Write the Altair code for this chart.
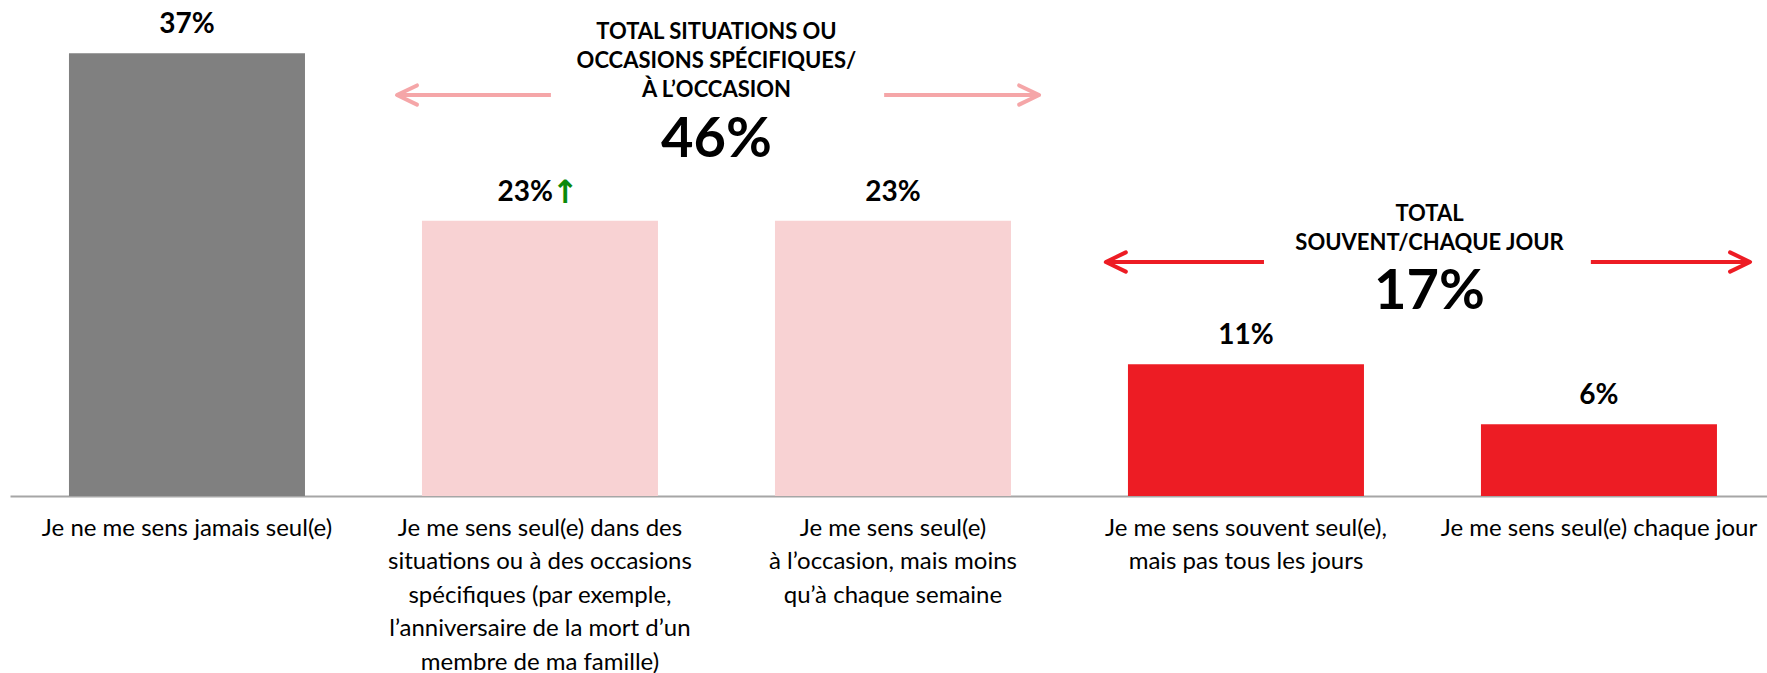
import altair as alt
import pandas as pd

# ---------------- data ----------------
categories = [
    "Je ne me sens jamais seul(e)",
    "Je me sens seul(e) dans des\nsituations ou à des occasions\nspécifiques (par exemple,\nl’anniversaire de la mort d’un\nmembre de ma famille)",
    "Je me sens seul(e)\nà l’occasion, mais moins\nqu’à chaque semaine",
    "Je me sens souvent seul(e),\nmais pas tous les jours",
    "Je me sens seul(e) chaque jour",
]
values = [37, 23, 23, 11, 6]
value_labels = ["37%", "23%", "23%", "11%", "6%"]
trend = ["", "↑", "", "", ""]
bar_colors = ["#808080", "#F8D2D3", "#F8D2D3", "#ED1C24", "#ED1C24"]

# group annotations (x in bar-slot units: 0 = first bar centre; y in % units)
group_lines = ["TOTAL SITUATIONS OU", "OCCASIONS SPÉCIFIQUES/", "À L’OCCASION",
               "TOTAL", "SOUVENT/CHAQUE JOUR"]
group_line_x = [1.5, 1.5, 1.5, 3.52, 3.52]
group_line_y = [38.18, 35.76, 33.33, 23.0, 20.55]

group_totals = ["46%", "17%"]
group_total_x = [1.5, 3.52]
group_total_y = [28.32, 15.62]

arrow_tail_x = [1.031, 1.975, 3.051, 3.977]
arrow_tip_x = [0.595, 2.414, 2.603, 4.428]
arrow_y = [33.50, 33.50, 19.55, 19.55]
arrow_angle = [180, 0, 180, 0]
arrow_colors = ["#F5A6A8", "#F5A6A8", "#ED1C24", "#ED1C24"]

# ---------------- tables ----------------
bars = pd.DataFrame({"cat": categories, "value": values, "label": value_labels,
                     "trend": trend, "color": bar_colors})
lines_df = pd.DataFrame({"text": group_lines, "x": group_line_x, "y": group_line_y})
totals_df = pd.DataFrame({"text": group_totals, "x": group_total_x, "y": group_total_y})
arrows_df = pd.DataFrame({"tail": arrow_tail_x, "tip": arrow_tip_x, "y": arrow_y,
                          "angle": arrow_angle, "color": arrow_colors})

FONT = "Lato"
Y_MAX = 41.44

band = alt.Scale(type="band", domain=categories, paddingInner=0.3314,
                 paddingOuter=0.1544, align=0.541)
unit = alt.Scale(domain=[-0.5013, 4.476], nice=False, zero=False)
yscale = alt.Scale(domain=[0, Y_MAX], nice=False, zero=True)

x_axis = alt.Axis(
    title=None, labelAngle=0, ticks=False, labelFont=FONT, labelFontSize=24,
    labelColor="#000000", labelLineHeight=33.5, labelPadding=20, labelLimit=500,
    labelOverlap=False, labelFlush=False, domainColor="#A6A6A6", domainWidth=2,
    labelExpr="split(datum.value, '\\n')", grid=False,
)

bar_layer = alt.Chart(bars).mark_bar().encode(
    x=alt.X("cat:N", scale=band, axis=x_axis),
    y=alt.Y("value:Q", scale=yscale, axis=None),
    color=alt.Color("color:N", scale=None),
)

label_base = alt.Chart(bars)
lab_plain = label_base.transform_filter("datum.trend == ''").mark_text(
    font=FONT, fontWeight="bold", fontSize=28, baseline="alphabetic", dy=-20,
    color="#000000", align="center",
).encode(
    x=alt.X("cat:N", scale=band, axis=None),
    y=alt.Y("value:Q", scale=yscale, axis=None),
    text="label:N",
)
lab_trend = label_base.transform_filter("datum.trend != ''").mark_text(
    font=FONT, fontWeight="bold", fontSize=28, baseline="alphabetic", dy=-20, dx=13,
    color="#000000", align="right",
).encode(
    x=alt.X("cat:N", scale=band, axis=None),
    y=alt.Y("value:Q", scale=yscale, axis=None),
    text="label:N",
)
lab_arrow = label_base.transform_filter("datum.trend != ''").mark_text(
    font="DejaVu Sans", fontWeight="bold", fontSize=32, baseline="alphabetic", dy=-18, dx=12,
    color="#0A8A0A", align="left",
).encode(
    x=alt.X("cat:N", scale=band, axis=None),
    y=alt.Y("value:Q", scale=yscale, axis=None),
    text="trend:N",
)

group_text = alt.Chart(lines_df).mark_text(
    font=FONT, fontWeight="bold", fontSize=22, baseline="alphabetic", align="center",
    color="#000000",
).encode(
    x=alt.X("x:Q", scale=unit, axis=None),
    y=alt.Y("y:Q", scale=yscale, axis=None),
    text="text:N",
)
group_total = alt.Chart(totals_df).mark_text(
    font=FONT, fontWeight="bold", fontSize=56, baseline="alphabetic", align="center",
    color="#000000",
).encode(
    x=alt.X("x:Q", scale=unit, axis=None),
    y=alt.Y("y:Q", scale=yscale, axis=None),
    text="text:N",
)

shafts = alt.Chart(arrows_df).mark_rule(strokeWidth=4, strokeCap="butt").encode(
    x=alt.X("tail:Q", scale=unit, axis=None),
    x2="tip:Q",
    y=alt.Y("y:Q", scale=yscale, axis=None),
    color=alt.Color("color:N", scale=None),
)
heads = alt.Chart(arrows_df).mark_point(
    shape="M -1 -0.48 L 0 0 L -1 0.48", filled=False, strokeWidth=4, size=1600,
    strokeCap="round", strokeJoin="round", opacity=1,
).encode(
    x=alt.X("tip:Q", scale=unit, axis=None),
    y=alt.Y("y:Q", scale=yscale, axis=None),
    angle=alt.Angle("angle:Q", scale=None),
    color=alt.Color("color:N", scale=None),
)

chart = alt.layer(
    bar_layer, lab_plain, lab_trend, lab_arrow, shafts, heads, group_text, group_total
).resolve_scale(x="independent").properties(
    width=1757, height=496,
    padding={"left": 10, "top": 0, "right": 0, "bottom": 177},
    autosize="none",
    background="#FFFFFF",
).configure_view(strokeWidth=0)

chart.save("out.html", embed_options={"renderer": "svg", "actions": False})
